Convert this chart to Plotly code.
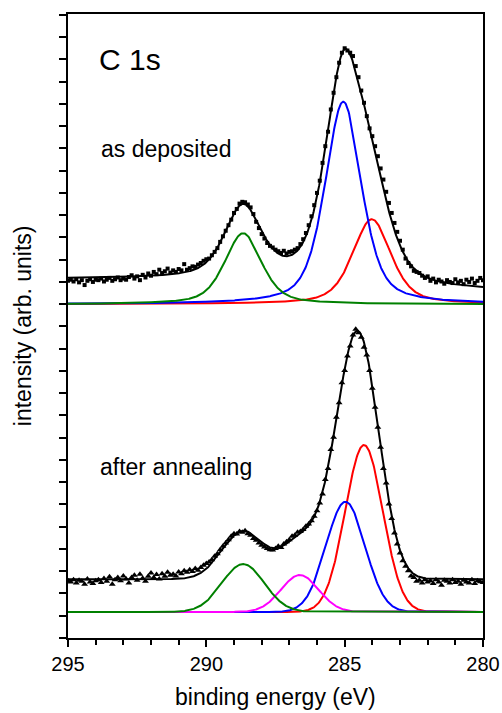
import numpy as np
import plotly.graph_objects as go

# ---------------- data ----------------
energy = np.linspace(295.0, 280.0, 151)  # measurement grid (eV)

# as deposited (squares), intensity above its own baseline
dep_counts = [
    1.05, 1.10, 1.02, 1.12, 0.98, 1.08, 0.86, 1.05, 1.12, 1.00, 1.10,
    1.08, 1.15, 1.02, 1.10, 1.18, 1.05, 1.12, 1.20, 1.08, 1.15,
    1.10, 1.22, 1.30, 1.15, 1.25, 1.08, 1.32, 1.20, 1.38, 1.28,
    1.45, 1.35, 1.55, 1.40, 1.48, 1.60, 1.42, 1.52, 1.45, 1.58,
    1.52, 1.80, 1.55, 1.62, 1.70, 1.68, 1.78, 1.85, 1.95, 2.02,
    2.05, 2.20, 2.35, 2.52, 2.80, 3.05, 3.30, 3.55, 3.80, 4.10,
    4.28, 4.52, 4.60, 4.58, 4.48, 4.35, 4.05, 3.70, 3.42, 3.15,
    2.95, 2.75, 2.62, 2.55, 2.45, 2.38, 2.30, 2.40, 2.28, 2.35,
    2.38, 2.45, 2.52, 2.70, 2.92, 3.20, 3.55, 3.95, 4.45, 5.00,
    5.55, 6.35, 7.10, 7.75, 8.75, 9.50, 10.20, 10.85, 11.30, 11.50,
    11.40, 11.30, 11.15, 10.70, 10.20, 9.60, 9.05, 8.45, 7.90, 7.55,
    7.10, 6.65, 6.10, 5.60, 5.05, 4.55, 4.10, 3.65, 3.25, 2.85,
    2.45, 2.05, 1.85, 1.70, 1.50, 1.45, 1.40, 1.28, 1.18, 1.25,
    1.05, 1.15, 0.98, 1.10, 1.02, 0.92, 1.08, 1.00, 0.95, 1.12,
    0.98, 1.05, 0.90, 1.10, 1.00, 1.15, 0.95, 1.05, 1.18, 1.08,
]

# after annealing (triangles)
ann_counts = [
    1.40, 1.35, 1.45, 1.30, 1.42, 1.38, 1.25, 1.48, 1.35, 1.28, 1.40,
    1.45, 1.32, 1.50, 1.38, 1.58, 1.25, 1.45, 1.55, 1.40, 1.62,
    1.48, 1.30, 1.55, 1.65, 1.42, 1.70, 1.52, 1.38, 1.60, 1.75,
    1.55, 1.68, 1.48, 1.72, 1.60, 1.78, 1.65, 1.70, 1.62, 1.80,
    1.72, 1.85, 1.78, 1.90, 1.82, 1.95, 1.88, 2.00, 2.10, 2.18,
    2.25, 2.35, 2.50, 2.62, 2.80, 2.95, 3.10, 3.25, 3.40, 3.52,
    3.50, 3.62, 3.58, 3.65, 3.52, 3.45, 3.30, 3.22, 3.10, 3.00,
    2.92, 2.85, 2.80, 2.78, 2.85, 2.95, 2.90, 3.05, 3.15, 3.25,
    3.40, 3.45, 3.58, 3.62, 3.70, 3.85, 3.95, 4.10, 4.30, 4.55,
    4.90, 5.30, 5.95, 6.45, 7.30, 7.85, 8.75, 9.40, 10.30, 10.85,
    11.50, 11.95, 12.45, 12.70, 12.55, 12.35, 11.90, 11.55, 10.85, 10.05,
    9.20, 8.30, 7.40, 6.45, 5.80, 4.85, 4.20, 3.55, 3.05, 2.65,
    2.30, 2.05, 1.85, 1.62, 1.55, 1.38, 1.42, 1.30, 1.45, 1.35,
    1.40, 1.28, 1.45, 1.35, 1.20, 1.42, 1.38, 1.30, 1.45, 1.32,
    1.38, 1.25, 1.42, 1.35, 1.30, 1.45, 1.28, 1.40, 1.36, 1.32,
]

# fitted components: (centre eV, height, FWHM eV)
dep_names = ["green", "blue", "red"]
dep_centres = [288.67, 285.05, 284.02]
dep_heights = [3.19, 9.10, 3.82]
dep_fwhm = [1.57, 1.55, 1.63]
dep_bg = [0.58, 1.13]          # Shirley background: low-BE end, high-BE end

ann_names = ["green", "magenta", "blue", "red"]
ann_centres = [288.67, 286.62, 284.97, 284.30]
ann_heights = [2.15, 1.66, 4.95, 7.50]
ann_fwhm = [1.80, 1.60, 1.65, 1.60]
ann_bg = 1.47

dep_offset = 15.0
ann_offset = 1.17

colors = {"green": "#008000", "blue": "#0000ff", "red": "#ff0000", "magenta": "#ff00ff"}

# ---------------- model curves ----------------
fine = np.linspace(280.0, 295.0, 751)


def pvoigt(x, c, h, w, eta=0.5):
    d = x - c
    lor = 1.0 / (1.0 + (2 * d / w) ** 2)
    gau = np.exp(-4 * np.log(2) * (d / w) ** 2)
    return h * (eta * lor + (1 - eta) * gau)


def gauss(x, c, h, w):
    return h * np.exp(-4 * np.log(2) * ((x - c) / w) ** 2)


dep_comp = [pvoigt(fine, c, h, w) for c, h, w in zip(dep_centres, dep_heights, dep_fwhm)]
dep_sum = np.sum(dep_comp, axis=0)
cum = np.cumsum(dep_sum)
cum = cum / cum[-1]
dep_background = dep_bg[0] + (dep_bg[1] - dep_bg[0]) * cum
dep_fit = dep_sum + dep_background

ann_comp = [gauss(fine, c, h, w) for c, h, w in zip(ann_centres, ann_heights, ann_fwhm)]
ann_fit = np.sum(ann_comp, axis=0) + ann_bg

fig = go.Figure()

# top spectrum
fig.add_trace(go.Scatter(x=energy, y=np.array(dep_counts) + dep_offset, mode="markers",
                         marker=dict(symbol="square", size=4, color="black"), showlegend=False))
order_dep = ["red", "blue", "green"]
for nm in order_dep:
    i = dep_names.index(nm)
    fig.add_trace(go.Scatter(x=fine, y=dep_comp[i] + dep_offset, mode="lines",
                             line=dict(color=colors[nm], width=2), showlegend=False))
fig.add_trace(go.Scatter(x=fine, y=dep_fit + dep_offset, mode="lines",
                         line=dict(color="black", width=2), showlegend=False))

# bottom spectrum
fig.add_trace(go.Scatter(x=energy, y=np.array(ann_counts) + ann_offset, mode="markers",
                         marker=dict(symbol="triangle-up", size=6, color="black"), showlegend=False))
order_ann = ["red", "blue", "magenta", "green"]
for nm in order_ann:
    i = ann_names.index(nm)
    fig.add_trace(go.Scatter(x=fine, y=ann_comp[i] + ann_offset, mode="lines",
                             line=dict(color=colors[nm], width=2), showlegend=False))
fig.add_trace(go.Scatter(x=fine, y=ann_fit + ann_offset, mode="lines",
                         line=dict(color="black", width=2), showlegend=False))

font_family = "Arial, Liberation Sans, sans-serif"

fig.update_layout(
    width=502, height=713, autosize=False,
    margin=dict(l=68, r=19, t=14, b=75, autoexpand=False),
    paper_bgcolor="white", plot_bgcolor="white",
    font=dict(family=font_family, color="black", size=20),
    xaxis=dict(range=[295, 280], tick0=280, dtick=5, ticks="outside", ticklen=7, tickwidth=1.5,
               tickcolor="black", showline=True, linecolor="black", linewidth=1.5, mirror=True,
               showgrid=False, zeroline=False, tickfont=dict(size=20), automargin=False,
               minor=dict(dtick=1, ticks="outside", ticklen=5, tickwidth=1.5, tickcolor="black",
                          showgrid=False)),
    yaxis=dict(range=[0, 28.04], tick0=0, dtick=1, ticks="outside", ticklen=7, tickwidth=1.5,
               tickcolor="black", showline=True, linecolor="black", linewidth=1.5, mirror=True,
               showgrid=False, zeroline=False, showticklabels=False, automargin=False),
    annotations=[
        dict(text="C 1s", x=293.96, y=26.0, xref="x", yref="y", xanchor="left", yanchor="middle",
             showarrow=False, font=dict(size=30)),
        dict(text="as deposited", x=293.88, y=21.98, xref="x", yref="y", xanchor="left",
             yanchor="middle", showarrow=False, font=dict(size=23)),
        dict(text="after annealing", x=293.90, y=7.69, xref="x", yref="y", xanchor="left",
             yanchor="middle", showarrow=False, font=dict(size=23)),
        dict(text="binding energy (eV)", x=0.5, y=-0.0946, xref="paper", yref="paper",
             xanchor="center", yanchor="middle", showarrow=False, font=dict(size=23)),
        dict(text="intensity (arb. units)", x=-0.108, y=0.5, xref="paper", yref="paper",
             xanchor="center", yanchor="middle", textangle=-90, showarrow=False,
             font=dict(size=23)),
    ],
)

fig.write_html("out.html", config={"displayModeBar": False},
               post_script="document.body.style.margin='0';document.body.style.overflow='hidden';")
